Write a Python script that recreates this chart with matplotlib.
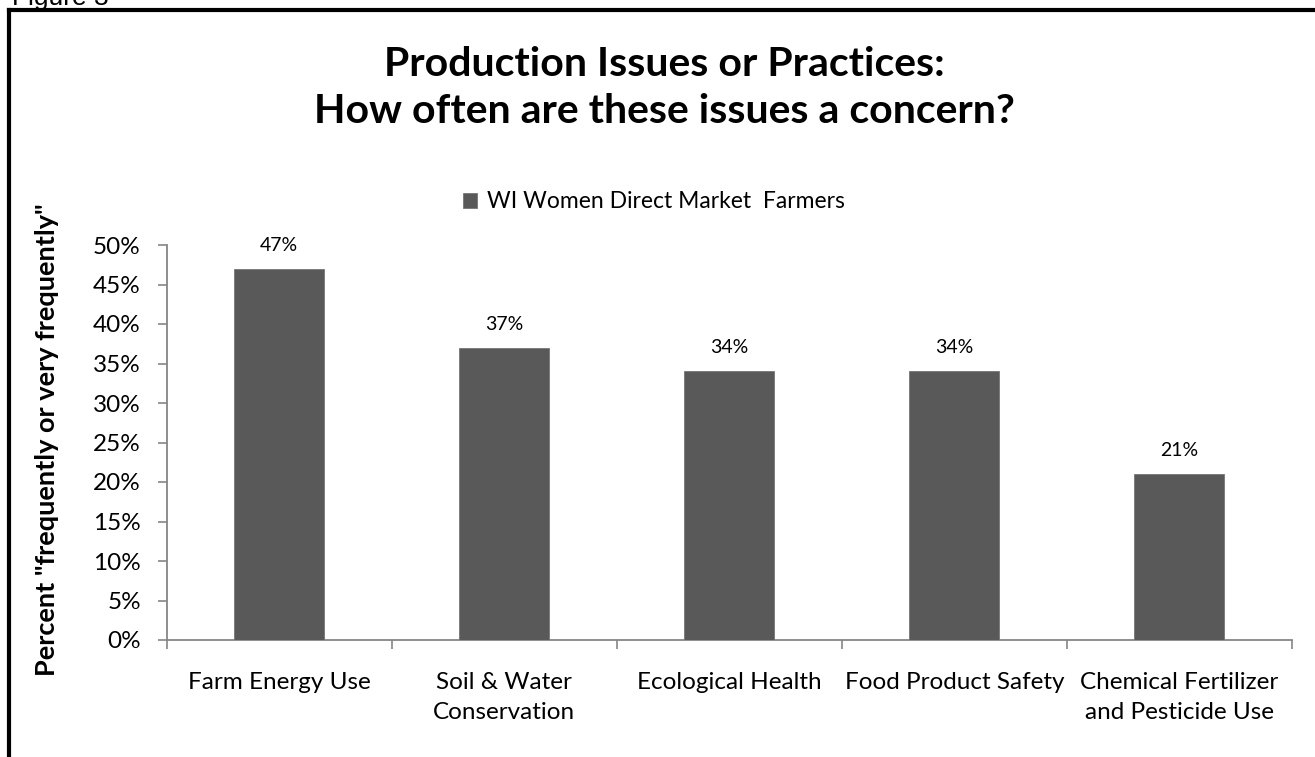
import matplotlib.pyplot as plt
from matplotlib.lines import Line2D
from matplotlib.ticker import FixedLocator, PercentFormatter
import numpy as np

categories = ['Farm Energy Use', 'Soil & Water\nConservation', 'Ecological Health',
              'Food Product Safety', 'Chemical Fertilizer\nand Pesticide Use']
values = [0.47, 0.37, 0.34, 0.34, 0.21]
value_labels = ['47%', '37%', '34%', '34%', '21%']
series_name = 'WI Women Direct Market  Farmers'
title_lines = ['Production Issues or Practices:', 'How often are these issues a concern?']
ylabel = 'Percent "frequently or very frequently"'

plt.rcParams['font.family'] = ['Lato', 'DejaVu Sans']

W, H = 1315, 757
fig = plt.figure(figsize=(W / 100, H / 100), dpi=100)
ax = fig.add_axes([166.5 / W, 1 - 640 / H, (1292 - 166.5) / W, (640 - 245) / H])

x = np.arange(len(categories))
bars = ax.bar(x, values, width=0.4, color='#595959', edgecolor='#767676',
              linewidth=0.6, label=series_name, zorder=3)

for xi, v, lab in zip(x, values, value_labels):
    ax.annotate(lab, (xi, v), xytext=(0, 17), textcoords='offset points',
                ha='center', va='center', fontsize=14, color='black')

ax.set_xlim(-0.5, len(categories) - 0.5)
ax.set_ylim(0, 0.5)
ax.set_yticks(np.arange(0, 0.501, 0.05))
ax.yaxis.set_major_formatter(PercentFormatter(1.0, decimals=0))

# tick marks on the category boundaries, labels at the centres
ax.xaxis.set_major_locator(FixedLocator(np.arange(-0.5, len(categories), 1.0)))
ax.xaxis.set_minor_locator(FixedLocator(x))
ax.set_xticklabels([], minor=False)
ax.set_xticklabels(categories, minor=True, fontsize=17.5, linespacing=1.55)
ax.tick_params(axis='x', which='major', direction='out', length=6.5,
               width=1.2, color='#868686')
ax.tick_params(axis='x', which='minor', length=0, pad=23)
ax.tick_params(axis='y', direction='out', length=6.5, width=1.2,
               color='#868686', labelsize=17.5, pad=12)

for s in ['top', 'right']:
    ax.spines[s].set_visible(False)
for s in ['left', 'bottom']:
    ax.spines[s].set_color('#868686')
    ax.spines[s].set_linewidth(1.3)

fig.text(47 / W, 1 - 440 / H, ylabel, rotation=90, ha='center', va='center',
         fontsize=19.5, fontweight='bold')

fig.text(0.505, 1 - 76 / H, title_lines[0], ha='center', va='baseline',
         fontsize=29.5, fontweight='bold')
fig.text(0.505, 1 - 123 / H, title_lines[1], ha='center', va='baseline',
         fontsize=29.5, fontweight='bold')

fig.legend(handles=[bars], labels=[series_name], loc='center',
           bbox_to_anchor=(653.5 / W, 1 - 202 / H), frameon=False,
           fontsize=16.5, handlelength=0.65, handleheight=0.65,
           handletextpad=0.4)

# page frame and the clipped caption above it
fig.text(12 / W, 1 - 5 / H, 'Figure 3', ha='left', va='baseline', fontsize=19,
         family=['Liberation Sans', 'DejaVu Sans'])
fy = 1 - 10 / H
fx = 9 / W
fig.add_artist(Line2D([fx, fx], [-0.01, fy], color='black', linewidth=3,
                      solid_capstyle='projecting'))
fig.add_artist(Line2D([fx, 1.01], [fy, fy], color='black', linewidth=3,
                      solid_capstyle='projecting'))

fig.savefig('out.png', dpi=100)
